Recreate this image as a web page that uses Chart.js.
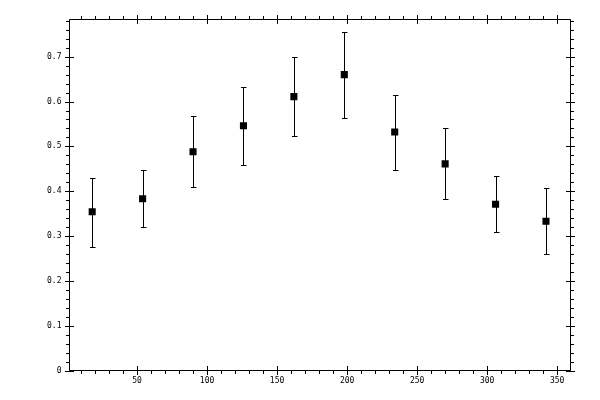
<!DOCTYPE html>
<html>
<head>
<meta charset="utf-8">
<title>Error bar chart</title>
<script src="https://cdn.jsdelivr.net/npm/chart.js@4/dist/chart.umd.min.js"></script>
<style>
  html, body { margin: 0; padding: 0; background: #fff; }
  canvas { display: block; }
</style>
</head>
<body>
<canvas id="errChart" width="600" height="400"></canvas>
<script>
// =========================
// Data
// =========================
const xValues = [18, 54, 90, 126, 162, 198, 234, 270, 306, 342];
const yValues = [0.354, 0.383, 0.488, 0.546, 0.611, 0.660, 0.532, 0.461, 0.371, 0.333];
const yLow = [0.276, 0.320, 0.409, 0.459, 0.523, 0.564, 0.447, 0.383, 0.309, 0.260];
const yHigh = [0.430, 0.448, 0.567, 0.633, 0.700, 0.756, 0.615, 0.541, 0.434, 0.407];

const xTickLabels = [50, 100, 150, 200, 250, 300, 350];
const yTickLabels = [0, 0.1, 0.2, 0.3, 0.4, 0.5, 0.6, 0.7];

const tickFont = { family: "DejaVu Sans Mono", size: 8 };

// =========================
// Error bars, drawn through the chart scales
// =========================
const errorBarPlugin = {
  id: "errorBars",
  beforeDatasetsDraw(chart) {
    const { ctx, scales } = chart;
    ctx.save();
    ctx.strokeStyle = "#000";
    ctx.lineWidth = 1;
    ctx.beginPath();
    xValues.forEach((xv, i) => {
      const px = Math.round(scales.x.getPixelForValue(xv)) + 0.5;
      const top = Math.round(scales.y.getPixelForValue(yHigh[i])) + 0.5;
      const bot = Math.round(scales.y.getPixelForValue(yLow[i])) + 0.5;
      ctx.moveTo(px, top);
      ctx.lineTo(px, bot);
      ctx.moveTo(px - 2.5, top);
      ctx.lineTo(px + 3, top);
      ctx.moveTo(px - 2.5, bot);
      ctx.lineTo(px + 3, bot);
    });
    ctx.stroke();
    ctx.restore();
  },
};

// =========================
// Box frame with minor / major ticks on all four sides
// =========================
const framePlugin = {
  id: "frame",
  afterDraw(chart) {
    const { ctx, chartArea, scales } = chart;
    const { left, right, top, bottom } = chartArea;
    ctx.save();
    ctx.strokeStyle = "#000";
    ctx.lineWidth = 1;
    ctx.beginPath();
    ctx.rect(left, top, right - left, bottom - top);

    // x ticks every 10, major every 50
    for (let v = 10; v <= 350; v += 10) {
      const px = Math.round(scales.x.getPixelForValue(v)) + 0.5;
      const major = v % 50 === 0;
      ctx.moveTo(px, major ? bottom - 4.5 : bottom);
      ctx.lineTo(px, bottom + (major ? 4.5 : 3.5));
      ctx.moveTo(px, major ? top + 4.5 : top);
      ctx.lineTo(px, top - (major ? 4.5 : 3.5));
    }

    // y ticks every 0.02, major every 0.1
    for (let i = 0; i <= 39; i++) {
      const py = Math.round(scales.y.getPixelForValue(i / 50)) + 0.5;
      const major = i % 5 === 0;
      ctx.moveTo(major ? left + 4.5 : left, py);
      ctx.lineTo(left - (major ? 4.5 : 3.5), py);
      ctx.moveTo(major ? right - 4.5 : right, py);
      ctx.lineTo(right + (major ? 4.5 : 3.5), py);
    }
    ctx.stroke();
    ctx.restore();
  },
};

// =========================
// Chart
// =========================
const ctx = document.getElementById("errChart");
new Chart(ctx, {
  type: "scatter",
  data: {
    datasets: [
      {
        data: xValues.map((x, i) => ({ x: x, y: yValues[i] })),
        pointStyle: "rect",
        pointRadius: 5,
        pointBorderWidth: 0,
        backgroundColor: "#000",
        borderColor: "#000",
      },
    ],
  },
  options: {
    responsive: false,
    animation: false,
    devicePixelRatio: 1,
    layout: { padding: { top: 19.5, right: 29.5, left: 0, bottom: 0 } },
    plugins: {
      legend: { display: false },
      tooltip: { enabled: false },
    },
    scales: {
      x: {
        type: "linear",
        min: 1.8,
        max: 359.5,
        grid: { display: false, drawTicks: false },
        border: { display: false },
        afterBuildTicks: (scale) => {
          scale.ticks = xTickLabels.map((v) => ({ value: v }));
        },
        afterFit: (scale) => {
          scale.height = 29.5;
        },
        ticks: {
          color: "#000",
          font: tickFont,
          padding: 6,
          maxRotation: 0,
          autoSkip: false,
          callback: (v) => String(v),
        },
      },
      y: {
        type: "linear",
        min: 0,
        max: 0.783,
        grid: { display: false, drawTicks: false },
        border: { display: false },
        afterBuildTicks: (scale) => {
          scale.ticks = yTickLabels.map((v) => ({ value: v }));
        },
        afterFit: (scale) => {
          scale.width = 69.5;
        },
        ticks: {
          color: "#000",
          font: tickFont,
          padding: 8,
          autoSkip: false,
          callback: (v) => (v === 0 ? "0" : v.toFixed(1)),
        },
      },
    },
  },
  plugins: [errorBarPlugin, framePlugin],
});
</script>
</body>
</html>
